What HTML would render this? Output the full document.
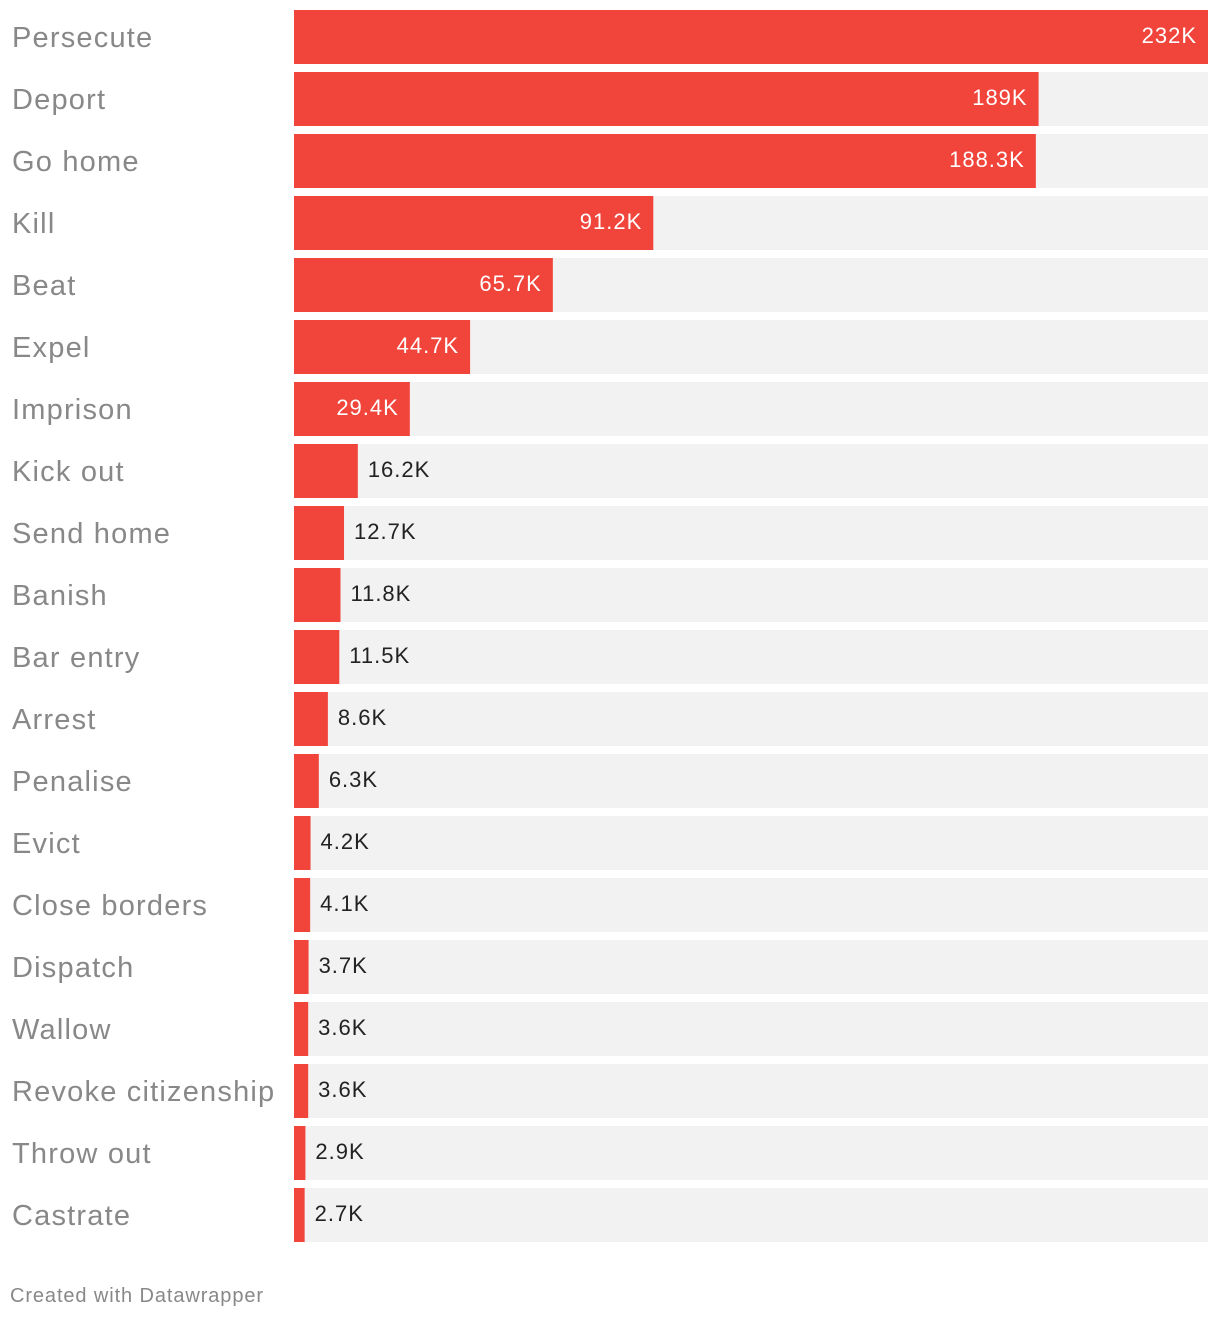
<!DOCTYPE html>
<html><head><meta charset="utf-8"><style>
body{margin:0;background:#fff;width:1220px;height:1318px;overflow:hidden;font-family:"Liberation Sans",sans-serif;}
svg{display:block}
</style></head><body>
<svg id="chart" width="1220" height="1318" xmlns="http://www.w3.org/2000/svg">
<text x="10" y="1302" font-size="20" letter-spacing="0.9" fill="#888">Created with Datawrapper</text>
</svg>
<script>
const categories=["Persecute","Deport","Go home","Kill","Beat","Expel","Imprison","Kick out","Send home","Banish","Bar entry","Arrest","Penalise","Evict","Close borders","Dispatch","Wallow","Revoke citizenship","Throw out","Castrate"];
const values=[232,189,188.3,91.2,65.7,44.7,29.4,16.2,12.7,11.8,11.5,8.6,6.3,4.2,4.1,3.7,3.6,3.6,2.9,2.7];
const valueLabels=["232K","189K","188.3K","91.2K","65.7K","44.7K","29.4K","16.2K","12.7K","11.8K","11.5K","8.6K","6.3K","4.2K","4.1K","3.7K","3.6K","3.6K","2.9K","2.7K"];
const maxValue=232;
const svg=document.getElementById('chart');
const NS='http://www.w3.org/2000/svg';
const x0=294,plotW=914,top0=10,pitch=62,barH=54;
const xScale=v=>v/maxValue*plotW;
const yPos=i=>top0+i*pitch;
function mk(tag,attrs){const e=document.createElementNS(NS,tag);for(const k in attrs)e.setAttribute(k,attrs[k]);svg.appendChild(e);return e;}
categories.forEach((c,i)=>{
  const y=yPos(i);
  const lab=mk('text',{x:12,y:y+37,'font-size':29,'letter-spacing':1.2,fill:'#888'});
  lab.textContent=c;
  
  
  const bg=mk('rect',{x:x0,y:y,width:plotW,height:barH,fill:'#f2f2f2'});
  
  
  const w=xScale(values[i]);
  const bar=mk('rect',{x:x0,y:y,width:w,height:barH,fill:'#f1443b'});
  
  
  const inside=w>100;
  const t=mk('text',{x:inside?x0+w-11:x0+w+10,y:y+33,'font-size':22,'letter-spacing':1,fill:inside?'#fff':'#222','text-anchor':inside?'end':'start'});
  t.textContent=valueLabels[i];
  
  
});
</script>
</body></html>
